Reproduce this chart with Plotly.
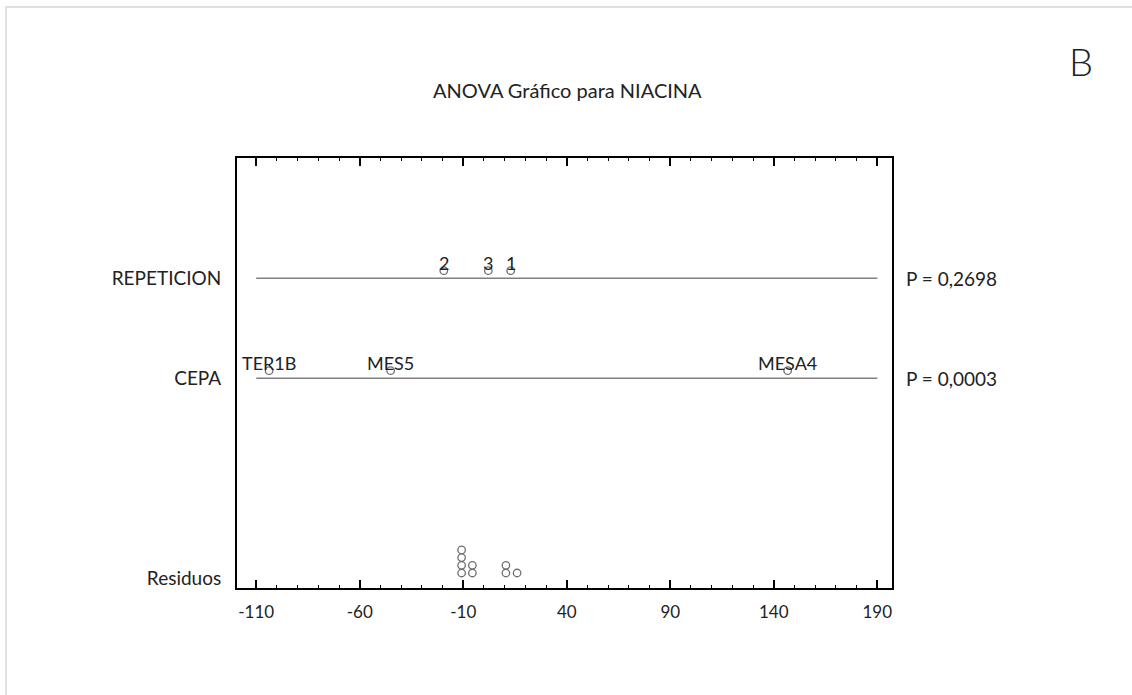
import plotly.graph_objects as go

# ---- data ----
factor_names = ["REPETICION", "CEPA"]
factor_rows = [3, 2]
p_values = ["P = 0,2698", "P = 0,0003"]

rep_levels = ["2", "3", "1"]
rep_effects = [-19.4, 2.1, 12.9]

cepa_levels = ["TER1B", "MES5", "MESA4"]
cepa_effects = [-103.8, -45.1, 146.7]

residuals = [-10.8, -10.8, -10.8, -10.8, -5.6, -5.6, 10.6, 10.6, 16.0]
residual_row = 0
residual_label = "Residuos"

x_ticks = [-110, -60, -10, 40, 90, 140, 190]
title_text = "ANOVA Gráfico para NIACINA"
panel_letter = "B"

# ---- layout geometry ----
W, H = 1132, 695
L, R, T, B = 237, 892, 158, 588
FONT = "Lato"
TXT = "#222222"
MARK = "#707070"
LINE = "#808080"

def px_x(p):
    return (p - L) / (R - L)

def px_y(p):
    return (B - p) / (B - T)

fig = go.Figure()

# horizontal factor lines
for row in factor_rows:
    fig.add_trace(go.Scatter(x=[x_ticks[0], x_ticks[-1]], y=[row, row], mode="lines",
                             line=dict(color=LINE, width=1.5), hoverinfo="skip", showlegend=False))

mark_off = 0.076
groups = [(rep_levels, rep_effects, factor_rows[0]), (cepa_levels, cepa_effects, factor_rows[1])]
annotations = []
for labels, effects, row in groups:
    fig.add_trace(go.Scatter(x=effects, y=[row + mark_off] * len(effects), mode="markers",
                             marker=dict(symbol="circle-open", size=7.5, color=MARK, line=dict(width=1.3)),
                             showlegend=False))
    for lab, e in zip(labels, effects):
        annotations.append(dict(x=e, y=row + mark_off, xref="x", yref="y", text=lab, showarrow=False,
                                yanchor="bottom", xanchor="center", yshift=-5,
                                font=dict(family=FONT, size=18, color=TXT)))

# stacked residual dots
counts = {}
stack_y = []
for r in residuals:
    k = round(r, 1)
    lvl = counts.get(k, 0)
    counts[k] = lvl + 1
    stack_y.append(residual_row + 0.053 + 0.077 * lvl)
fig.add_trace(go.Scatter(x=residuals, y=stack_y, mode="markers",
                         marker=dict(symbol="circle-open", size=7.5, color=MARK, line=dict(width=1.3)),
                         showlegend=False))

# P-value labels on the right
for row, p in zip(factor_rows, p_values):
    annotations.append(dict(x=1, y=row, xref="paper", yref="y", text=p, showarrow=False,
                            xanchor="left", yanchor="middle", xshift=12,
                            font=dict(family=FONT, size=19, color=TXT)))

annotations.append(dict(x=px_x(567), y=px_y(90), xref="paper", yref="paper", text=title_text,
                        showarrow=False, xanchor="center", yanchor="middle",
                        font=dict(family=FONT, size=20, color=TXT)))
annotations.append(dict(x=px_x(1081), y=px_y(61), xref="paper", yref="paper", text=panel_letter,
                        showarrow=False, xanchor="center", yanchor="middle",
                        font=dict(family=FONT, size=38, color=TXT, weight=300)))

shapes = [dict(type="rect", xref="paper", yref="paper", x0=px_x(6), y0=px_y(760), x1=px_x(1200), y1=px_y(7),
               line=dict(color="#e0e0e0", width=2), layer="below")]

fig.update_layout(
    width=W, height=H, autosize=False,
    margin=dict(l=L, r=W - R, t=T, b=H - B, pad=0),
    paper_bgcolor="white", plot_bgcolor="white",
    annotations=annotations, shapes=shapes,
    xaxis=dict(range=[-119.3, 197.1], tickvals=x_ticks, ticktext=[str(v) for v in x_ticks],
               ticks="inside", ticklen=8, tickwidth=1.7, tickcolor="black",
               minor=dict(dtick=10, tick0=-110, ticks="inside", ticklen=3, tickwidth=1.3, tickcolor="black"),
               showline=True, linecolor="black", linewidth=2, mirror="ticks",
               showgrid=False, zeroline=False, ticklabelstandoff=8,
               tickfont=dict(family=FONT, size=17, color=TXT)),
    yaxis=dict(range=[-0.097, 4.203], tickvals=[factor_rows[0], factor_rows[1], residual_row],
               ticktext=[factor_names[0], factor_names[1], residual_label], ticks="",
               showline=True, linecolor="black", linewidth=2, mirror=True,
               showgrid=False, zeroline=False, ticklabelstandoff=10,
               tickfont=dict(family=FONT, size=19, color=TXT)),
)

fig.write_html("out.html", config={"displayModeBar": False},
               post_script="document.body.style.margin='0';document.body.style.overflow='hidden';")
